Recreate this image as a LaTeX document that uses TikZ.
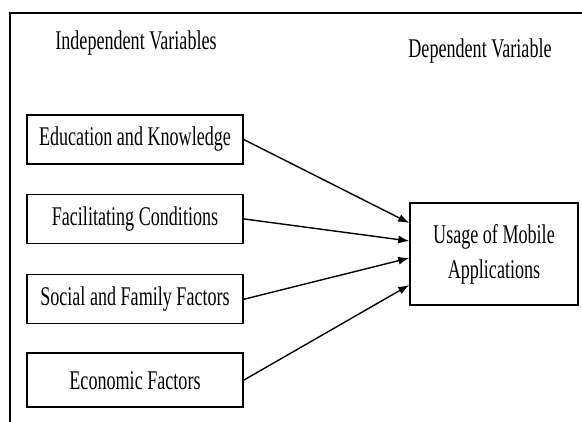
\documentclass[tikz,border=0pt]{standalone}
\usepackage{fontspec}
\setmainfont{Liberation Serif}[FakeStretch=0.67]
\usetikzlibrary{positioning}
\usetikzlibrary{arrows.meta}
\tikzset{varbox/.style={draw=black, line width=1.4pt, minimum width=216pt, minimum height=49pt, inner sep=0pt, font=\fontsize{27}{35}\selectfont},
	%heading text above the columns
	heading/.style={font=\fontsize{27}{35}\selectfont, inner sep=0pt},
	link/.style={line width=1.4pt, -{Latex[length=11pt, width=8pt]}}}

\begin{document}
\begin{tikzpicture}[x=1pt, y=-1pt]
		\useasboundingbox (0,0) rectangle (582,422);
		\draw[line width=1.6pt] (10,422) -- (10,13) -- (582,13);
		\node[heading] (indep) at (136,43) {Independent Variables};
		\node[heading] (dep) at (480,51) {Dependent Variable};
		\node[varbox] (edu) at (135,139.5) {Education and Knowledge};
		\node[varbox, below=29pt of edu] (facil) {Facilitating Conditions};
		\node[varbox, below=30pt of facil] (social) {Social and Family Factors};
		\node[varbox, below=28pt of social, minimum height=54pt] (econ) {Economic Factors};
		\node[varbox, minimum width=168pt, minimum height=102pt, align=center] (usage) at (494,254) {Usage of Mobile\\Applications};
		\draw[link] (edu.east) -- ([yshift=31pt]usage.west);
		\draw[link] (facil.east) -- ([yshift=13pt]usage.west);
		\draw[link] (social.east) -- ([yshift=-4pt]usage.west);
		\draw[link] (econ.east) -- ([yshift=-31pt]usage.west);
%		\draw[help lines] (0,0) grid[step=50] (582,422);
	\end{tikzpicture}
\end{document}
